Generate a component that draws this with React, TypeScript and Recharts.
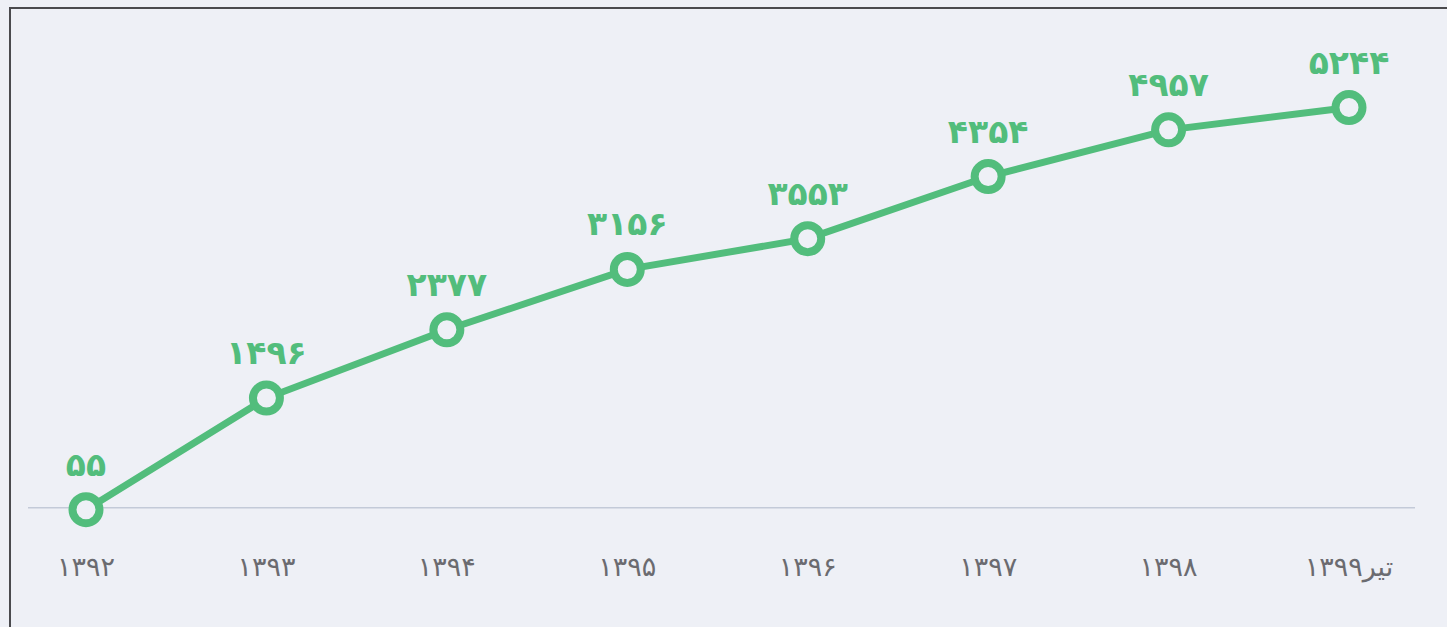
import { LineChart, Line, XAxis, YAxis, ReferenceLine, LabelList } from "recharts";

const years = ["۱۳۹۲", "۱۳۹۳", "۱۳۹۴", "۱۳۹۵", "۱۳۹۶", "۱۳۹۷", "۱۳۹۸", "تیر۱۳۹۹"];
const counts = [55, 1496, 2377, 3156, 3553, 4354, 4957, 5244];
const baseline = 80;

const GREEN = "#52bd7c";
const BG = "#eef0f6";

const data = years.map((y, i) => ({ year: y, count: counts[i] }));

// latin -> persian digits for the point labels
const fa = (v: any) => String(v).replace(/\d/g, (d) => "۰۱۲۳۴۵۶۷۸۹"[+d]);

export default function App() {
  return (
    <div style={{ position: "absolute", left: 0, top: 0, width: 1447, height: 627, background: BG, overflow: "hidden" }}>
      <div
        style={{
          position: "absolute",
          left: 9,
          top: 7,
          width: 1460,
          height: 640,
          borderTop: "2px solid #4a4a4e",
          borderLeft: "2px solid #4a4a4e",
        }}
      />
      <LineChart
        width={1447}
        height={627}
        data={data}
        margin={{ top: 49, right: 32, left: 28, bottom: 83 }}
        style={{ fontFamily: "DejaVu Sans" }}
      >
        <XAxis
          dataKey="year"
          axisLine={false}
          tickLine={false}
          tickMargin={37}
          height={30}
          padding={{ left: 58, right: 66 }}
          tick={{ fill: "#6b6b70", fontSize: 27 }}
          interval={0}
        />
        <YAxis hide domain={[0, 6000]} />
        <ReferenceLine y={baseline} stroke="#c3cad8" strokeWidth={1.5} />
        <Line
          dataKey="count"
          stroke={GREEN}
          strokeWidth={7}
          isAnimationActive={false}
          dot={{ r: 13.5, fill: BG, stroke: GREEN, strokeWidth: 8 }}
        >
          <LabelList
            dataKey="count"
            position="top"
            offset={34}
            formatter={fa}
            fill={GREEN}
            fontSize={33}
            fontWeight="bold"
          />
        </Line>
      </LineChart>
    </div>
  );
}
